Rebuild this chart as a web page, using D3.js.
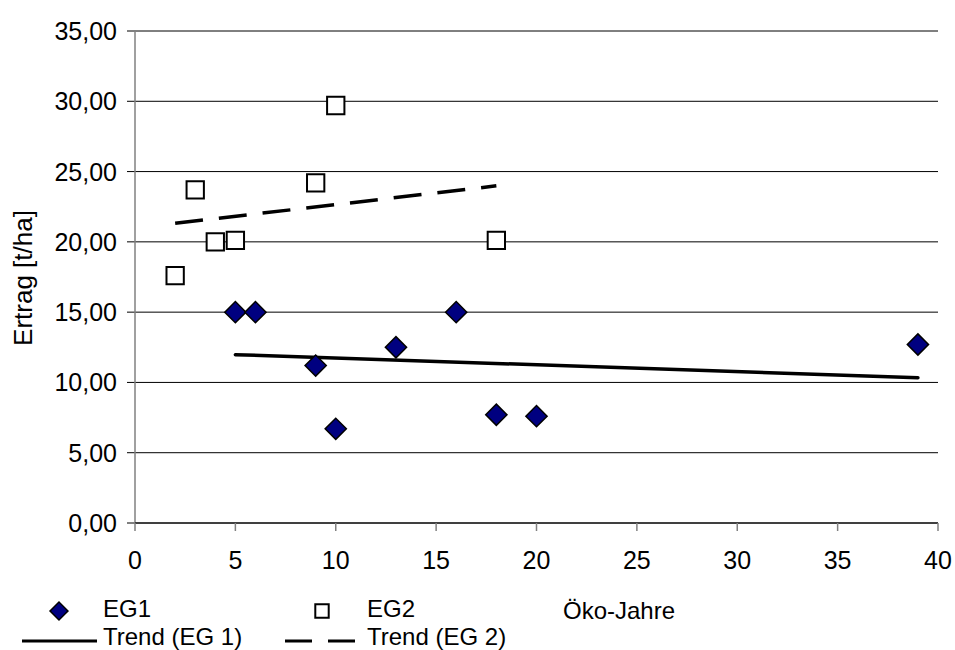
<!DOCTYPE html>
<html>
<head>
<meta charset="utf-8">
<script src="https://cdn.jsdelivr.net/npm/d3@7"></script>
<style>
  body { margin: 0; background: #fff; }
  text { font-family: "Liberation Sans", Arial, sans-serif; fill: #000; }
</style>
</head>
<body>
<svg id="chart" width="955" height="650"></svg>
<script>
// EG1 values (Öko-Jahre, Ertrag)
var eg1Years = [5, 6, 9, 10, 13, 16, 18, 20, 39];
var eg1Yield = [15.0, 15.0, 11.2, 6.7, 12.5, 15.0, 7.7, 7.6, 12.7];
// EG2 values
var eg2Years = [2, 3, 4, 5, 9, 10, 18];
var eg2Yield = [17.6, 23.7, 20.0, 20.1, 24.2, 29.7, 20.1];

var xTicks = [0, 5, 10, 15, 20, 25, 30, 35, 40];
var yTicks = [0, 5, 10, 15, 20, 25, 30, 35];

var svg = d3.select("#chart"),
  x = d3.scaleLinear().domain([0, 40]).range([135, 938]),
  y = d3.scaleLinear().domain([0, 35]).range([523, 31]),
  fmt = function(v){ return v.toFixed(2).replace(".", ","); };

// linear trend (least squares) over the data range
function trend(xs, ys){
  var mx = d3.mean(xs), my = d3.mean(ys),
    sxy = d3.sum(xs, function(v, i){ return (v - mx) * (ys[i] - my); }),
    sxx = d3.sum(xs, function(v){ return (v - mx) * (v - mx); }),
    b = sxy / sxx, a = my - b * mx;
  return d3.extent(xs).map(function(v){ return [v, a + b * v]; });
}

// gridlines
svg.append("g").selectAll("line")
  .data(yTicks)
  .enter().append("line")
  .attr("x1", 127).attr("x2", x(40))
  .attr("y1", function(d){ return y(d); })
  .attr("y2", function(d){ return y(d); })
  .attr("stroke", "#000").attr("stroke-width", 1);

// y axis
svg.append("line")
  .attr("x1", x(0)).attr("x2", x(0)).attr("y1", y(35)).attr("y2", y(0))
  .attr("stroke", "#808080").attr("stroke-width", 1.5);
svg.append("g").selectAll("text")
  .data(yTicks)
  .enter().append("text")
  .attr("x", 117)
  .attr("y", function(d){ return y(d) + 9; })
  .attr("text-anchor", "end")
  .style("font-size", "25px")
  .text(fmt);

// x axis
svg.append("line")
  .attr("x1", x(0)).attr("x2", x(40)).attr("y1", y(0)).attr("y2", y(0))
  .attr("stroke", "#000").attr("stroke-width", 1);
svg.append("g").selectAll("line")
  .data(xTicks)
  .enter().append("line")
  .attr("x1", function(d){ return x(d); }).attr("x2", function(d){ return x(d); })
  .attr("y1", y(0)).attr("y2", y(0) + 8)
  .attr("stroke", "#808080").attr("stroke-width", 1.5);
svg.append("g").selectAll("text")
  .data(xTicks)
  .enter().append("text")
  .attr("x", function(d){ return x(d); })
  .attr("y", 569)
  .attr("text-anchor", "middle")
  .style("font-size", "25px")
  .text(function(d){ return d; });

// y label
svg.append("text")
  .attr("transform", "translate(32,278) rotate(-90)")
  .attr("text-anchor", "middle")
  .style("font-size", "26px")
  .text("Ertrag [t/ha]");

// trend lines
var line = d3.line().x(function(d){ return x(d[0]); }).y(function(d){ return y(d[1]); });
svg.append("path")
  .attr("d", line(trend(eg1Years, eg1Yield)))
  .attr("fill", "none").attr("stroke", "#000").attr("stroke-width", 3.5)
  .attr("stroke-linecap", "round");
svg.append("path")
  .attr("d", line(trend(eg2Years, eg2Yield)))
  .attr("fill", "none").attr("stroke", "#000").attr("stroke-width", 3.5)
  .attr("stroke-dasharray", "28,16");

// markers
var diamond = d3.symbol().type(d3.symbolSquare).size(225),
  square = d3.symbol().type(d3.symbolSquare).size(300);

svg.append("g").selectAll("path")
  .data(eg2Years)
  .enter().append("path")
  .attr("d", square)
  .attr("transform", function(d, i){ return "translate(" + x(d) + "," + y(eg2Yield[i]) + ")"; })
  .attr("fill", "#fff").attr("stroke", "#000").attr("stroke-width", 2);

svg.append("g").selectAll("path")
  .data(eg1Years)
  .enter().append("path")
  .attr("d", diamond)
  .attr("transform", function(d, i){ return "translate(" + x(d) + "," + y(eg1Yield[i]) + ") rotate(45)"; })
  .attr("fill", "#000080").attr("stroke", "#000").attr("stroke-width", 1.5);

// legend
var leg = svg.append("g");
leg.append("path")
  .attr("d", d3.symbol().type(d3.symbolSquare).size(160))
  .attr("transform", "translate(59,611) rotate(45)")
  .attr("fill", "#000080").attr("stroke", "#000").attr("stroke-width", 1.5);
leg.append("text").attr("x", 103).attr("y", 617).style("font-size", "24px").text("EG1");
leg.append("path")
  .attr("d", d3.symbol().type(d3.symbolSquare).size(180))
  .attr("transform", "translate(322,611)")
  .attr("fill", "#fff").attr("stroke", "#000").attr("stroke-width", 2);
leg.append("text").attr("x", 367).attr("y", 617).style("font-size", "24px").text("EG2");
leg.append("text").attr("x", 563).attr("y", 619).style("font-size", "24px").text("Öko-Jahre");

leg.append("line").attr("x1", 22).attr("x2", 97).attr("y1", 641).attr("y2", 641)
  .attr("stroke", "#000").attr("stroke-width", 3);
leg.append("text").attr("x", 103).attr("y", 645).style("font-size", "24px").text("Trend (EG 1)");
leg.append("line").attr("x1", 285).attr("x2", 357).attr("y1", 641).attr("y2", 641)
  .attr("stroke", "#000").attr("stroke-width", 3).attr("stroke-dasharray", "27,16");
leg.append("text").attr("x", 367).attr("y", 645).style("font-size", "24px").text("Trend (EG 2)");
</script>
</body>
</html>
